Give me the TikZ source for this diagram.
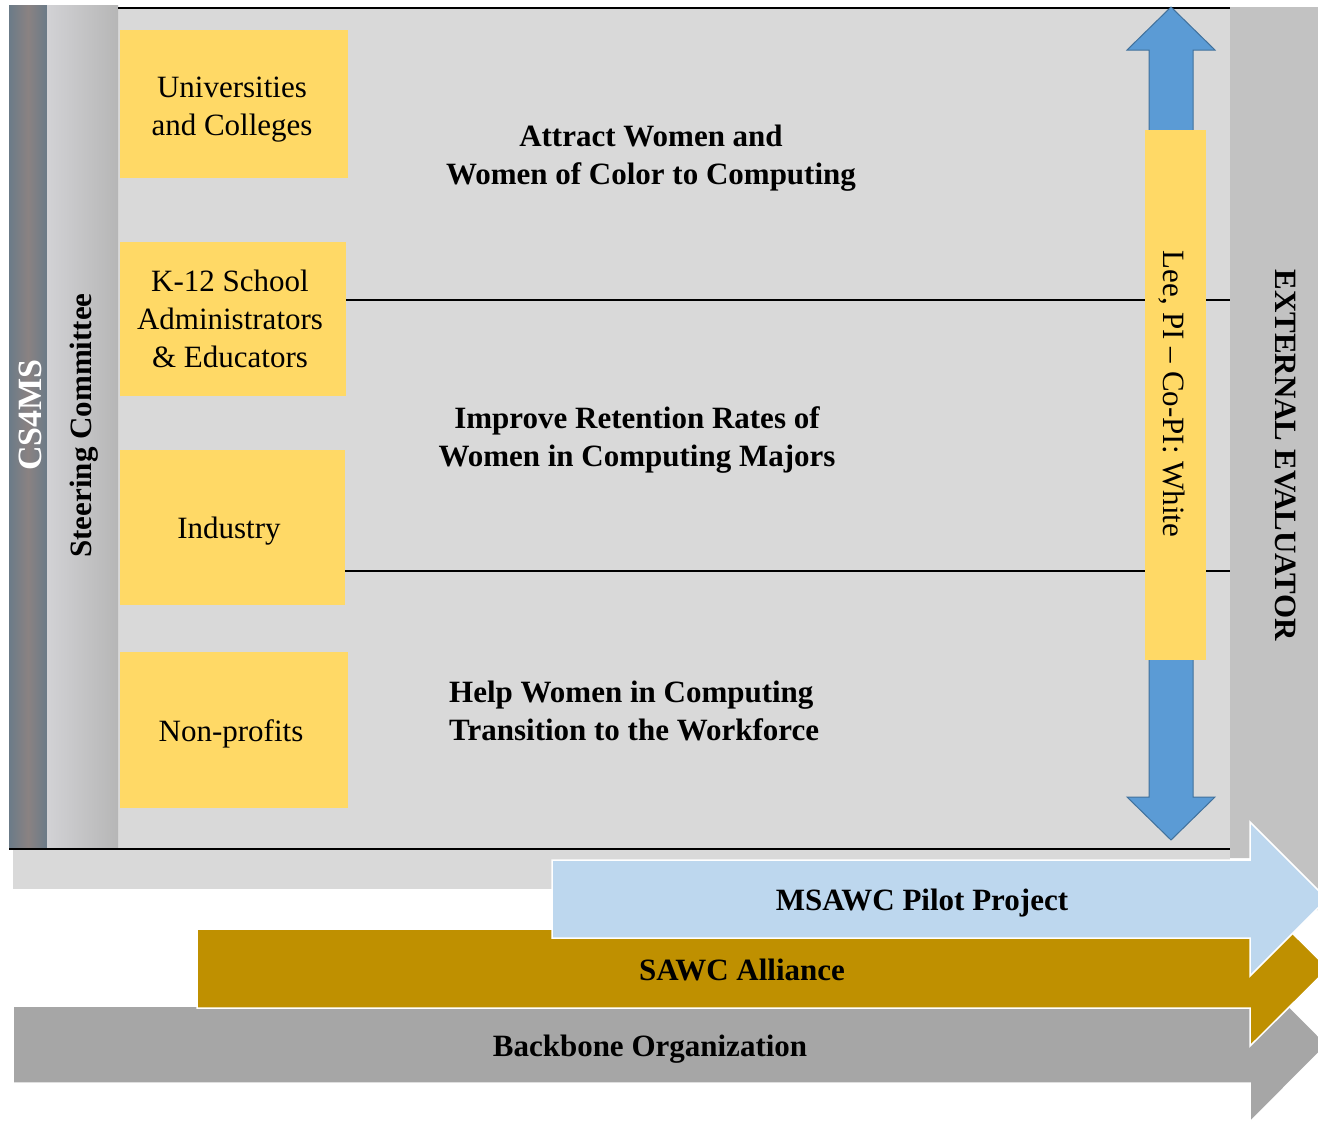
\documentclass[tikz,border=0pt]{standalone}
\usepackage{fontspec}
\setmainfont{Liberation Serif}
\definecolor{panel}{HTML}{D9D9D9}
\definecolor{colgray}{HTML}{C2C2C2}
\definecolor{yel}{HTML}{FFD966}
\definecolor{csA}{HTML}{6B7B88}
\definecolor{csB}{HTML}{8A8282}
\definecolor{stA}{HTML}{D2D2D5}
\definecolor{stB}{HTML}{B6B6B6}
\definecolor{barrow}{HTML}{5B9BD5}
\definecolor{barrowd}{HTML}{41719C}
\definecolor{lblue}{HTML}{BDD7EE}
\definecolor{gold}{HTML}{BF9000}
\definecolor{bbgray}{HTML}{A6A6A6}
\begin{document}
\begin{tikzpicture}[x=1pt,y=-1pt,
  txt/.style={font=\fontsize{31}{38}\selectfont, inner sep=0pt, align=center, text=black},
  btxt/.style={font=\fontsize{31}{38}\selectfont\bfseries, inner sep=0pt, align=center, text=black},
  ybox/.style={fill=yel, draw=none, inner sep=0pt, rectangle},
  sepline/.style={draw=black, line width=2.4pt},
  bandarrow/.style={draw=white, line width=1.5pt, line join=miter}]
\useasboundingbox (0,0) rectangle (1318,1120);
\clip (0,0) rectangle (1318,1120);
\fill[white] (0,0) rectangle (1318,1120);
% lower light band and main panel
\fill[panel] (13,849) rectangle (1230,889);
\fill[panel] (118,8) rectangle (1230,849);
% external evaluator column
\fill[colgray] (1230,7) -- (1318,7) -- (1318,910) -- (1250,910) -- (1250,858) -- (1230,858) -- cycle;
% left bars
\shade[left color=csA, right color=csA, middle color=csB] (9,5) rectangle (47,849);
\shade[left color=stA, right color=stB] (47,5) rectangle (118,849);
% separator lines
\coordinate (topL) at (118,8);
\coordinate (topR) at (1230,8);
\coordinate (botL) at (9,849);
\coordinate (botR) at (1230,849);
\coordinate (s1L) at (345,300);
\coordinate (s1R) at (1230,300);
\coordinate (s2L) at (345,571);
\coordinate (s2R) at (1230,571);
\draw[sepline] (topL) -- (topR);
\draw[sepline] (botL) -- (botR);
\draw[sepline] (s1L) -- (s1R);
\draw[sepline, line width=1.8pt] (s2L) -- (s2R);
% yellow boxes
\node[ybox, minimum width=228pt, minimum height=148pt] (univ) at (234,104) {};
\node[ybox, minimum width=226pt, minimum height=154pt] (k12) at (233,319) {};
\node[ybox, minimum width=225pt, minimum height=155pt] (ind) at (232.5,527.5) {};
\node[ybox, minimum width=228pt, minimum height=156pt] (nonp) at (234,730) {};
% blue double arrow
\filldraw[fill=barrow, draw=barrowd, line width=1pt]
  (1171,7) -- (1215,50) -- (1193,50) -- (1193,797) -- (1215,797) -- (1171,840)
  -- (1127,797) -- (1149,797) -- (1149,50) -- (1127,50) -- cycle;
\node[ybox, minimum width=61pt, minimum height=530pt] (lee) at (1175.5,395) {};
% texts
\node[txt] (univt) at (232,110) {Universities\\and Colleges};
\node[txt] (k12t) at (230,319) {K-12 School\\Administrators\\\& Educators};
\node[txt] (indt) at (229,531) {Industry};
\node[txt] (nonpt) at (231,734) {Non-profits};
\node[btxt] (goal1) at (651,158) {Attract Women and\\Women of Color to Computing};
\node[btxt] (goal2) at (637,440) {Improve Retention Rates of\\Women in Computing Majors};
\node[btxt, align=left, anchor=west] (goal3) at (449,711) {Help Women in Computing\\Transition to the Workforce};
\node[btxt, text=white, font=\fontsize{34}{40}\selectfont\bfseries, rotate=90] (cs4ms) at (30,415) {CS4MS};
\node[btxt, rotate=90] (steer) at (84,425.5) {Steering Committee};
\node[txt, rotate=-90] (leet) at (1172,394) {Lee, PI -- Co-PI: White};
\node[btxt, rotate=-90] (ext) at (1286,455) {EXTERNAL EVALUATOR};
% bottom band arrows
\filldraw[fill=bbgray, bandarrow] (13,1006) -- (1250,1006) -- (1250,967) -- (1327,1044.5)
  -- (1250,1122) -- (1250,1083) -- (13,1083) -- cycle;
\filldraw[fill=gold, bandarrow] (197,929) -- (1250,929) -- (1250,891) -- (1328,968.5)
  -- (1250,1046) -- (1250,1008) -- (197,1008) -- cycle;
\filldraw[fill=lblue, bandarrow] (552,860) -- (1250,860) -- (1250,822) -- (1327,899)
  -- (1250,976) -- (1250,938) -- (552,938) -- cycle;
\node[btxt] (msawc) at (922,903) {MSAWC Pilot Project};
\node[btxt] (sawc) at (742,969.5) {SAWC Alliance};
\node[btxt] (backbone) at (650,1049) {Backbone Organization};
\end{tikzpicture}
\end{document}
